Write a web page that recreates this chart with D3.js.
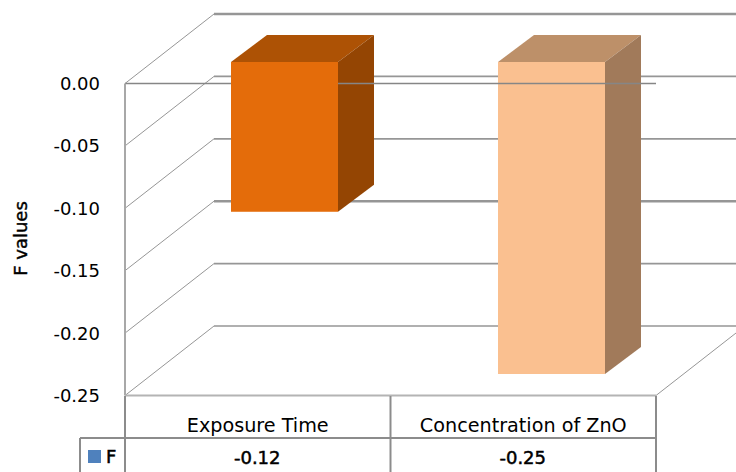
<!DOCTYPE html>
<html>
<head>
<meta charset="utf-8">
<script src="https://cdnjs.cloudflare.com/ajax/libs/d3/7.8.5/d3.min.js"></script>
<style>
html,body{margin:0;padding:0;background:#fff}
svg{display:block}
text{font-family:"DejaVu Sans",sans-serif;fill:#000}
</style>
</head>
<body>
<svg id="chart" width="736" height="472"></svg>
<script>
const categories = ["Exposure Time", "Concentration of ZnO"];
const fValues = [-0.12, -0.25];
const tickValues = [0, -0.05, -0.10, -0.15, -0.20, -0.25];
const seriesName = "F";
const frontColors = ["#e46c0a", "#fac090"];
const topColors = ["#ad5205", "#bd9069"];
const sideColors = ["#944503", "#a17a5a"];

const svg = d3.select("#chart");
const y = d3.scaleLinear().domain([0, -0.25]).range([83.5, 395.5]);
const x = d3.scaleBand().domain(categories).range([125, 656]);
// Bars sit on a plane pushed back into the box, so their slots are slightly wider
const xBars = d3.scaleBand().domain(categories).range([151, 685]);

// Projection offsets for the box depth and for the bars standing inside it
const depthX = 89, depthY = -69.5;
const barDY = -21.5;
const barBoxDX = 36, barBoxDY = -27;
const barWidth = 107;
const gridColor = "#969696";

const pts = a => a.map(p => p.join(",")).join(" ");
const fmt = d => d3.format(".2f")(d).replace("−", "-");

// Back wall gridlines and their thinner slanted runs along the side wall
const grid = svg.append("g").attr("fill", "none").attr("stroke", gridColor);
tickValues.forEach(t => {
  grid.append("line")
    .attr("x1", 125 + depthX).attr("x2", 736)
    .attr("y1", y(t) + depthY).attr("y2", y(t) + depthY)
    .attr("stroke-width", t === 0 || t === -0.15 ? 2.4 : 1.7);
  grid.append("line")
    .attr("x1", 125).attr("y1", y(t))
    .attr("x2", 125 + depthX).attr("y2", y(t) + depthY)
    .attr("stroke-width", 1);
});

// Floor edge running away from the front right corner
grid.append("line")
  .attr("x1", 656).attr("y1", y(-0.25))
  .attr("x2", 736).attr("y2", y(-0.25) + depthY * (80 / depthX))
  .attr("stroke-width", 1);

// Side and top faces of each bar
const barX = i => xBars(categories[i]) + (xBars.bandwidth() - barWidth) / 2;
const bars = svg.append("g").selectAll("g").data(fValues).join("g");

bars.append("polygon").attr("fill", (d, i) => topColors[i])
  .attr("points", (d, i) => {
    const l = barX(i), t = y(0) + barDY;
    return pts([[l, t], [l + barWidth, t], [l + barWidth + barBoxDX, t + barBoxDY], [l + barBoxDX, t + barBoxDY]]);
  });
bars.append("polygon").attr("fill", (d, i) => sideColors[i])
  .attr("points", (d, i) => {
    const r = barX(i) + barWidth, t = y(0) + barDY, b = y(d) + barDY;
    return pts([[r, t], [r + barBoxDX, t + barBoxDY], [r + barBoxDX, b + barBoxDY], [r, b]]);
  });

const drawFront = i => svg.append("rect")
  .attr("fill", frontColors[i])
  .attr("x", barX(i)).attr("width", barWidth)
  .attr("y", y(0) + barDY)
  .attr("height", y(fValues[i]) - y(0));

// The lighter bar's front lies under the zero line, the darker one's over it
drawFront(1);

svg.append("line").attr("x1", 125).attr("x2", 656)
  .attr("y1", y(0)).attr("y2", y(0))
  .attr("stroke", "#868686").attr("stroke-width", 1.3);

drawFront(0);

// Front wall of the plot, in a lighter grey than the table rules
const wall = svg.append("g").attr("stroke-width", 2);
wall.append("line").attr("x1", 125).attr("x2", 125).attr("y1", 83.5).attr("y2", 395.5).attr("stroke", "#a8a8a8");
wall.append("line").attr("x1", 125).attr("x2", 656).attr("y1", 395.5).attr("y2", 395.5).attr("stroke", "#b4b4b4");

// Data table under the plot
const table = svg.append("g").attr("stroke", "#8c8c8c").attr("stroke-width", 2);
const rowTop = 396, rowMid = 438, rowEnd = 472;
[[125, rowTop, 125, rowEnd], [80, rowMid, 80, rowEnd], [x(categories[1]), rowTop, x(categories[1]), rowEnd], [656, rowTop, 656, rowEnd],
 [80, rowMid, 656, rowMid]].forEach(s => {
  table.append("line").attr("x1", s[0]).attr("y1", s[1]).attr("x2", s[2]).attr("y2", s[3]);
});

// Value axis labels
svg.append("g").selectAll("text").data(tickValues).join("text")
  .attr("x", 100).attr("y", d => y(d) + 6.5)
  .attr("text-anchor", "end").attr("font-size", 18)
  .text(fmt);

svg.append("text")
  .attr("transform", "translate(27,238.5) rotate(-90)")
  .attr("text-anchor", "middle").attr("font-size", 18)
  .attr("stroke", "#000").attr("stroke-width", 0.4)
  .text("F values");

// Category and value rows of the table
svg.append("g").selectAll("text").data(categories).join("text")
  .attr("x", d => x(d) + x.bandwidth() / 2).attr("y", 431.5)
  .attr("text-anchor", "middle").attr("font-size", 19.2)
  .text(d => d);

svg.append("g").selectAll("text").data(fValues).join("text")
  .attr("x", (d, i) => x(categories[i]) + x.bandwidth() / 2 - 0.5).attr("y", 464)
  .attr("text-anchor", "middle").attr("font-size", 18)
  .attr("stroke", "#000").attr("stroke-width", 0.5)
  .text(fmt);

svg.append("rect").attr("x", 88).attr("y", 450).attr("width", 13).attr("height", 13).attr("fill", "#4f81bd");
svg.append("text").attr("x", 106).attr("y", 463).attr("font-size", 18)
  .attr("stroke", "#000").attr("stroke-width", 0.5).text(seriesName);
</script>
</body>
</html>
